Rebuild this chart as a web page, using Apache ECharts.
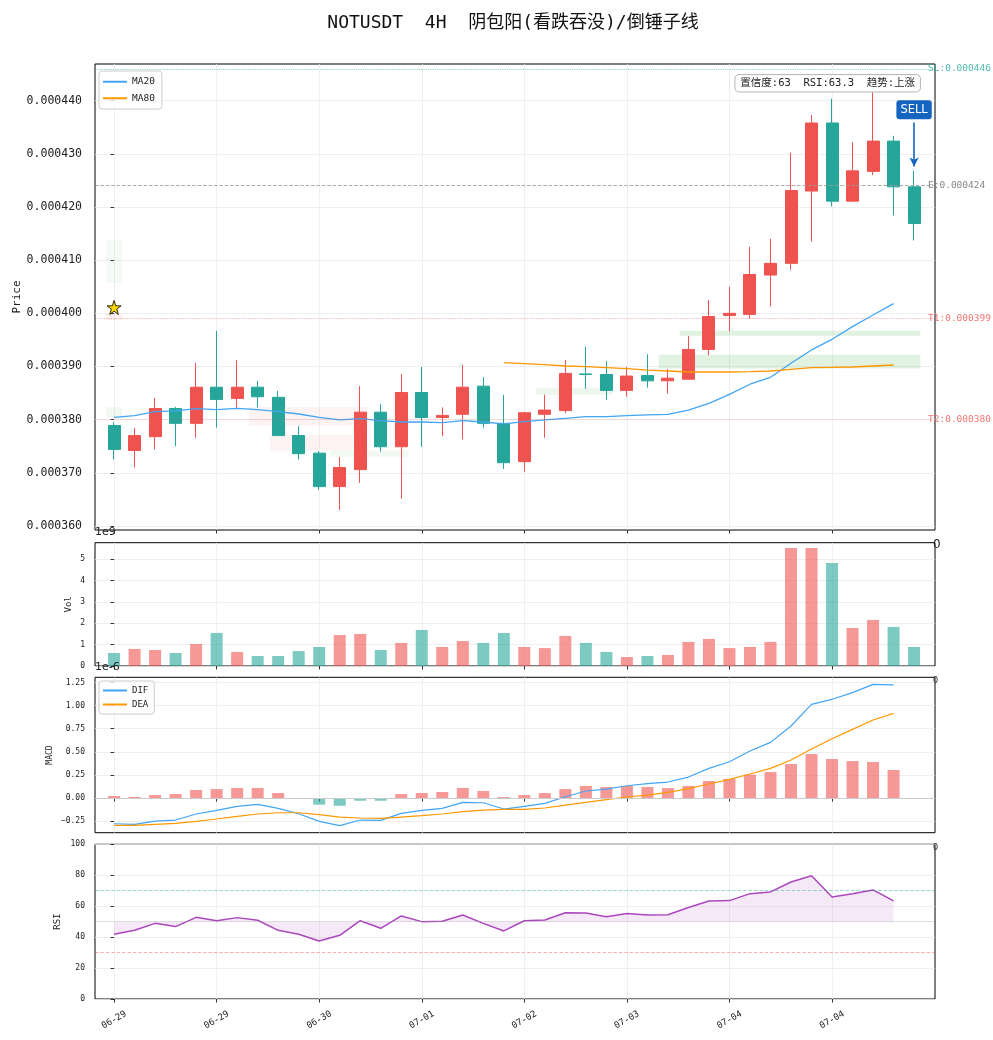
<!DOCTYPE html>
<html>
<head>
<meta charset="utf-8">
<script src="https://cdn.jsdelivr.net/npm/echarts@6/dist/echarts.min.js"></script>
<style>html,body{margin:0;padding:0;background:#fff}#c{width:993px;height:1040px}</style>
</head>
<body>
<div id="c"></div>
<script>
// ---------- data ----------
const tickIdx = [0, 5, 10, 15, 20, 25, 30, 35];
const tickLabels = ['06-29', '06-29', '06-30', '07-01', '07-02', '07-03', '07-04', '07-04'];

const opens  = [378.9e-6,374.2e-6,376.8e-6,382.1e-6,379.3e-6,386.1e-6,384.0e-6,386.1e-6,384.2e-6,377.0e-6,
                373.7e-6,367.4e-6,370.6e-6,381.4e-6,374.9e-6,385.1e-6,380.4e-6,381.0e-6,386.3e-6,379.3e-6,
                372.1e-6,381.0e-6,381.7e-6,388.6e-6,388.5e-6,385.5e-6,388.3e-6,387.3e-6,387.6e-6,393.2e-6,
                399.6e-6,399.8e-6,407.2e-6,409.4e-6,423.0e-6,435.8e-6,421.1e-6,426.7e-6,432.4e-6,423.8e-6];
const closes = [374.4e-6,377.0e-6,382.1e-6,379.3e-6,386.1e-6,383.8e-6,386.1e-6,384.3e-6,377.0e-6,373.6e-6,
                367.4e-6,371.0e-6,381.4e-6,374.9e-6,385.1e-6,380.4e-6,380.8e-6,386.1e-6,379.3e-6,371.9e-6,
                381.3e-6,381.8e-6,388.7e-6,388.5e-6,385.5e-6,388.2e-6,387.3e-6,387.8e-6,393.2e-6,399.4e-6,
                400.0e-6,407.3e-6,409.4e-6,423.1e-6,435.8e-6,421.1e-6,426.8e-6,432.4e-6,423.8e-6,416.9e-6];
const lows   = [372.5e-6,371.0e-6,374.4e-6,375.0e-6,376.6e-6,378.5e-6,382.1e-6,382.3e-6,377.0e-6,372.5e-6,
                366.8e-6,363.0e-6,368.1e-6,374.0e-6,365.1e-6,374.9e-6,376.9e-6,376.3e-6,378.5e-6,370.7e-6,
                370.2e-6,376.6e-6,381.2e-6,385.8e-6,383.7e-6,384.3e-6,386.0e-6,384.9e-6,387.6e-6,392.1e-6,
                396.6e-6,399.0e-6,401.3e-6,408.2e-6,413.5e-6,420.1e-6,421.1e-6,426.0e-6,418.4e-6,413.7e-6];
const highs  = [379.5e-6,378.4e-6,384.1e-6,382.4e-6,390.7e-6,396.7e-6,391.2e-6,387.3e-6,385.4e-6,378.8e-6,
                374.1e-6,373.0e-6,386.3e-6,382.9e-6,388.6e-6,389.9e-6,382.3e-6,390.3e-6,388.0e-6,384.7e-6,
                381.5e-6,384.7e-6,391.2e-6,393.7e-6,391.0e-6,389.9e-6,392.3e-6,389.5e-6,395.7e-6,402.5e-6,
                405.0e-6,412.5e-6,414.0e-6,430.2e-6,437.3e-6,440.4e-6,432.2e-6,441.6e-6,433.4e-6,426.8e-6];

const volumes = [0.61e9,0.80e9,0.75e9,0.61e9,1.03e9,1.55e9,0.66e9,0.47e9,0.47e9,0.70e9,
                 0.89e9,1.45e9,1.50e9,0.75e9,1.08e9,1.69e9,0.89e9,1.17e9,1.08e9,1.55e9,
                 0.89e9,0.84e9,1.41e9,1.08e9,0.66e9,0.42e9,0.47e9,0.52e9,1.13e9,1.27e9,
                 0.84e9,0.89e9,1.13e9,5.53e9,5.53e9,4.83e9,1.78e9,2.16e9,1.83e9,0.89e9];

const ma20 = [380.44e-6,380.75e-6,381.50e-6,381.63e-6,382.07e-6,381.88e-6,382.13e-6,381.88e-6,381.50e-6,381.06e-6,
              380.44e-6,379.94e-6,380.18e-6,379.81e-6,379.56e-6,379.56e-6,379.43e-6,379.81e-6,379.56e-6,379.19e-6,
              379.62e-6,379.94e-6,380.25e-6,380.56e-6,380.56e-6,380.75e-6,380.88e-6,381.00e-6,381.81e-6,383.07e-6,
              384.76e-6,386.66e-6,387.96e-6,390.60e-6,393.11e-6,395.11e-6,397.50e-6,399.69e-6,401.83e-6];
const ma80Start = 19;
const ma80 = [390.72e-6,390.53e-6,390.34e-6,390.09e-6,389.96e-6,389.77e-6,389.59e-6,389.33e-6,389.15e-6,388.96e-6,
              388.96e-6,388.96e-6,389.02e-6,389.15e-6,389.47e-6,389.77e-6,389.84e-6,389.90e-6,390.09e-6,390.28e-6];

const dif = [-0.278e-6,-0.285e-6,-0.249e-6,-0.238e-6,-0.173e-6,-0.133e-6,-0.090e-6,-0.069e-6,-0.112e-6,-0.170e-6,
             -0.253e-6,-0.299e-6,-0.238e-6,-0.242e-6,-0.166e-6,-0.133e-6,-0.112e-6,-0.047e-6,-0.051e-6,-0.119e-6,
             -0.090e-6,-0.058e-6,0.014e-6,0.076e-6,0.097e-6,0.133e-6,0.155e-6,0.173e-6,0.227e-6,0.321e-6,
             0.393e-6,0.509e-6,0.602e-6,0.779e-6,1.014e-6,1.068e-6,1.140e-6,1.230e-6,1.223e-6];
const dea = [-0.296e-6,-0.296e-6,-0.285e-6,-0.274e-6,-0.253e-6,-0.227e-6,-0.198e-6,-0.173e-6,-0.159e-6,-0.159e-6,
             -0.180e-6,-0.206e-6,-0.216e-6,-0.220e-6,-0.206e-6,-0.191e-6,-0.173e-6,-0.148e-6,-0.130e-6,-0.123e-6,
             -0.123e-6,-0.108e-6,-0.076e-6,-0.047e-6,-0.018e-6,0.011e-6,0.032e-6,0.061e-6,0.101e-6,0.152e-6,
             0.202e-6,0.260e-6,0.321e-6,0.411e-6,0.530e-6,0.642e-6,0.743e-6,0.844e-6,0.916e-6];
const macdHist = [0.022e-6,0.011e-6,0.032e-6,0.043e-6,0.087e-6,0.097e-6,0.108e-6,0.108e-6,0.054e-6,-0.011e-6,
                  -0.072e-6,-0.083e-6,-0.029e-6,-0.029e-6,0.043e-6,0.054e-6,0.065e-6,0.108e-6,0.076e-6,0.011e-6,
                  0.032e-6,0.054e-6,0.097e-6,0.130e-6,0.119e-6,0.130e-6,0.119e-6,0.108e-6,0.130e-6,0.184e-6,
                  0.206e-6,0.253e-6,0.281e-6,0.368e-6,0.476e-6,0.422e-6,0.400e-6,0.390e-6,0.303e-6];

const rsi = [41.8,44.4,48.9,46.8,52.8,50.6,52.6,50.9,44.4,41.8,
             37.5,41.2,50.6,45.7,53.7,50.0,50.2,54.3,48.9,44.0,
             50.6,51.1,55.8,55.6,53.2,55.2,54.3,54.5,59.1,63.4,
             63.6,68.1,69.2,75.6,79.7,65.9,68.1,70.5,63.4];

const priceLevels = [446e-6, 424e-6, 399e-6, 380e-6];
const priceLevelNames = ['SL', 'E', 'T1', 'T2'];

const zoneX1 = [-0.39, -0.39, -0.39, 6.58, 7.60, 10.55, 20.55, 26.55, 27.57];
const zoneX2 = [0.39, 0.39, 0.39, 12.36, 11.64, 14.37, 24.32, 39.31, 39.31];
const zoneLo = [405.7e-6, 398.7e-6, 380.4e-6, 378.9e-6, 374.2e-6, 373.0e-6, 384.7e-6, 389.6e-6, 395.8e-6];
const zoneHi = [413.8e-6, 400.0e-6, 382.4e-6, 382.4e-6, 377.1e-6, 374.2e-6, 386.0e-6, 392.2e-6, 396.7e-6];
const zoneKind = ['g', 'r', 'g', 'r', 'r', 'g', 'g', 'g', 'g'];

const starPoint = [0, 401.1e-6];
const signalIdx = 39;
const signalLabelPrice = 438.3e-6;
const arrowFrom = 435.9e-6, arrowTo = 427.6e-6;
const infoText = '置信度:63  RSI:63.3  趋势:上涨';
const titleText = 'NOTUSDT  4H  阴包阳(看跌吞没)/倒锤子线';

// ---------- styles ----------
const FONT = "'DejaVu Sans Mono','Noto Sans CJK SC',monospace";
const UP = '#ef5350', DOWN = '#26a69a';
const UP_A = 'rgba(239,83,80,0.6)', DOWN_A = 'rgba(38,166,154,0.6)';
const zoneAlpha = [0.06, 0.08, 0.07, 0.07, 0.07, 0.07, 0.10, 0.17, 0.17];
const X_MIN = -0.93, X_MAX = 40.02;
const GRID_C = '#ebebeb';

const grids = [
  {left: 95, top: 64, width: 840, height: 466},
  {left: 95, top: 542.7, width: 840, height: 123.3},
  {left: 95, top: 677.3, width: 840, height: 155.4},
  {left: 95, top: 844.3, width: 840, height: 154.7}
].map(g => Object.assign(g, {show: true, borderColor: '#000', borderWidth: 1, backgroundColor: 'transparent',
                             containLabel: false, outerBoundsMode: 'none'}));

const xAxes = grids.map((g, i) => ({
  type: 'value', gridIndex: i, min: X_MIN, max: X_MAX,
  axisLine: {show: false},
  axisTick: {show: true, length: 3.5, lineStyle: {color: '#000', width: 0.8}, customValues: tickIdx},
  axisLabel: {
    show: i === 3, customValues: tickIdx,
    formatter: v => tickLabels[tickIdx.indexOf(Math.round(v))] || '',
    rotate: 30, align: 'center', verticalAlign: 'middle', margin: 21,
    fontSize: 9, color: '#222', fontFamily: FONT
  },
  splitLine: {show: true, lineStyle: {color: GRID_C, width: 0.8}}
}));

const priceTicks = [360e-6, 370e-6, 380e-6, 390e-6, 400e-6, 410e-6, 420e-6, 430e-6, 440e-6];
const volTicks = [0, 1e9, 2e9, 3e9, 4e9, 5e9];
const macdTicks = [-0.25e-6, 0, 0.25e-6, 0.5e-6, 0.75e-6, 1.0e-6, 1.25e-6];
const rsiTicks = [0, 20, 40, 60, 80, 100];

function yAx(i, min, max, ticks, fmt, fs, name, nameGap, nameFs, margin) {
  return {
    type: 'value', gridIndex: i, min: min, max: max,
    axisLine: {show: false},
    axisTick: {show: true, length: 3.5, lineStyle: {color: '#000', width: 0.8}, customValues: ticks},
    axisLabel: {customValues: ticks, formatter: fmt, fontSize: fs, color: '#222', fontFamily: FONT, margin: margin},
    splitLine: {show: true, lineStyle: {color: GRID_C, width: 0.8}},
    name: name, nameLocation: 'middle', nameGap: nameGap, nameMoveOverlap: false,
    nameTextStyle: {fontSize: nameFs, color: '#222', fontFamily: FONT}
  };
}
const yAxes = [
  yAx(0, 359.24e-6, 446.9e-6, priceTicks, v => v.toFixed(6), 11.5, 'Price', 72, 11, 13),
  yAx(1, 0, 5.78e9, volTicks, v => String(Math.round(v / 1e9)), 8, 'Vol', 22, 9, 10),
  yAx(2, -0.375e-6, 1.306e-6, macdTicks, v => (v / 1e-6).toFixed(2).replace('-', '−'), 8, 'MACD', 41, 8, 10),
  yAx(3, 0, 100, rsiTicks, v => String(v), 8, 'RSI', 33, 9, 10)
];

const isUp = opens.map((o, i) => closes[i] > o);
const candleData = opens.map((o, i) => [i, o, closes[i], lows[i], highs[i]]);

const levelStyles = [
  {color: '#26a69a', type: 'dotted', opacity: 0.6, labelColor: '#26a69a'},
  {color: '#999', type: 'dashed', opacity: 0.9, labelColor: '#666'},
  {color: '#ef5350', type: 'dotted', opacity: 0.5, labelColor: '#ef5350'},
  {color: '#ef5350', type: 'dotted', opacity: 0.3, labelColor: '#ef5350'}
];
const levelLines = priceLevels.map((p, i) => ({
  yAxis: p,
  lineStyle: {color: levelStyles[i].color, type: levelStyles[i].type, opacity: levelStyles[i].opacity, width: 0.9},
  label: {show: true, position: 'end', distance: -7, formatter: priceLevelNames[i] + ':' + p.toFixed(6),
          color: levelStyles[i].labelColor, opacity: 0.8, fontSize: 9.5, fontFamily: FONT}
}));

const zones = zoneX1.map((x1, i) => [
  {coord: [x1, zoneHi[i]], itemStyle: {color: zoneKind[i] === 'g' ? `rgba(76,175,80,${zoneAlpha[i]})` : `rgba(239,83,80,${zoneAlpha[i]})`}},
  {coord: [zoneX2[i], zoneLo[i]]}
]);

const STAR = 'path://M50,2 L61.8,36.2 L97.6,36.2 L68.6,57.4 L79.4,91.6 L50,70.6 L20.6,91.6 L31.4,57.4 L2.4,36.2 L38.2,36.2 Z';

const option = {
  animation: false,
  backgroundColor: '#fff',
  textStyle: {fontFamily: FONT},
  title: {
    text: titleText, left: 508, top: 9, textAlign: 'center',
    textStyle: {fontSize: 18, fontWeight: 'normal', color: '#111', fontFamily: FONT}
  },
  legend: [
    {data: [{name: 'MA20', icon: 'rect'}, {name: 'MA80', icon: 'rect'}], left: 99, top: 71, orient: 'vertical',
     itemWidth: 24, itemHeight: 2, itemGap: 7, padding: [6, 7, 6, 4], borderColor: '#ccc', borderWidth: 1, borderRadius: 3,
     backgroundColor: 'rgba(255,255,255,0.8)', textStyle: {fontSize: 9.5, color: '#222', fontFamily: FONT}},
    {data: [{name: 'DIF', icon: 'rect'}, {name: 'DEA', icon: 'rect'}], left: 99, top: 681, orient: 'vertical',
     itemWidth: 24, itemHeight: 2, itemGap: 5, padding: [5, 6, 5, 4], borderColor: '#ccc', borderWidth: 1, borderRadius: 3,
     backgroundColor: 'rgba(255,255,255,0.8)', textStyle: {fontSize: 9, color: '#222', fontFamily: FONT}}
  ],
  grid: grids,
  xAxis: xAxes,
  yAxis: yAxes,
  series: [
    {
      type: 'candlestick', name: 'K', xAxisIndex: 0, yAxisIndex: 0, data: candleData, barWidth: 12.5, z: 3,
      itemStyle: {color: UP, color0: DOWN, borderColor: UP, borderColor0: DOWN, borderWidth: 1},
      markArea: {silent: true, data: zones}
    },
    {type: 'line', name: 'MA20', xAxisIndex: 0, yAxisIndex: 0, data: ma20.map((v, i) => [i, v]),
     symbol: 'none', color: '#42a5f5', lineStyle: {color: '#42a5f5', width: 1.3}, z: 4,
     markLine: {silent: true, symbol: 'none', precision: 10, data: levelLines}},
    {type: 'line', name: 'MA80', xAxisIndex: 0, yAxisIndex: 0, data: ma80.map((v, i) => [i + ma80Start, v]),
     symbol: 'none', color: '#ff9800', lineStyle: {color: '#ff9800', width: 1.3}, z: 4},
    {type: 'scatter', name: 'star', xAxisIndex: 0, yAxisIndex: 0, data: [starPoint], symbol: STAR, symbolSize: 14, z: 6,
     itemStyle: {color: '#ffd700', borderColor: '#000', borderWidth: 0.8, opacity: 1}},
    {type: 'scatter', name: 'signal', xAxisIndex: 0, yAxisIndex: 0, data: [[signalIdx, signalLabelPrice]], symbolSize: 0, z: 7,
     itemStyle: {opacity: 1},
     label: {show: true, position: 'inside', formatter: 'SELL', color: '#fff', backgroundColor: '#1565c0', opacity: 1,
             padding: [4, 4, 3, 4], borderRadius: 3, fontSize: 11.5, fontFamily: "'DejaVu Sans',sans-serif"},
     markLine: {silent: true, symbol: ['none', 'arrow'], symbolSize: [7, 9], precision: 10, label: {show: false},
                lineStyle: {color: '#1565c0', width: 1.6, type: 'solid', opacity: 1},
                data: [[{coord: [signalIdx, arrowFrom]}, {coord: [signalIdx, arrowTo]}]]}},
    {type: 'bar', name: 'Vol', xAxisIndex: 1, yAxisIndex: 1, barWidth: 12,
     data: volumes.map((v, i) => ({value: [i, v], itemStyle: {color: isUp[i] ? UP_A : DOWN_A}}))},
    {type: 'bar', name: 'Hist', xAxisIndex: 2, yAxisIndex: 2, barWidth: 12,
     data: macdHist.map((v, i) => ({value: [i, v], itemStyle: {color: v >= 0 ? UP_A : DOWN_A}})),
     markLine: {silent: true, symbol: 'none', label: {show: false}, lineStyle: {color: '#ccc', width: 1, type: 'solid'}, data: [{yAxis: 0}]}},
    {type: 'line', name: 'DIF', xAxisIndex: 2, yAxisIndex: 2, data: dif.map((v, i) => [i, v]),
     symbol: 'none', color: '#42a5f5', lineStyle: {color: '#42a5f5', width: 1.2}, z: 4},
    {type: 'line', name: 'DEA', xAxisIndex: 2, yAxisIndex: 2, data: dea.map((v, i) => [i, v]),
     symbol: 'none', color: '#ff9800', lineStyle: {color: '#ff9800', width: 1.2}, z: 4},
    {type: 'custom', name: 'rsiFill', xAxisIndex: 3, yAxisIndex: 3, data: rsi.map((v, i) => [i, v]), silent: true, z: 2,
     renderItem: function (params, api) {
       if (params.dataIndex !== 0) return null;
       const pts = rsi.map((v, i) => api.coord([i, v]));
       for (let i = rsi.length - 1; i >= 0; i--) pts.push(api.coord([i, 50]));
       return {type: 'polygon', shape: {points: pts}, style: {fill: 'rgba(171,71,188,0.12)'}};
     }},
    {type: 'line', name: 'RSI', xAxisIndex: 3, yAxisIndex: 3, data: rsi.map((v, i) => [i, v]),
     symbol: 'none', color: '#ab47bc', lineStyle: {color: '#ab47bc', width: 1.5}, z: 4,
     markLine: {silent: true, symbol: 'none', label: {show: false}, data: [
       {yAxis: 70, lineStyle: {color: '#26a69a', type: 'dashed', opacity: 0.5, width: 0.9}},
       {yAxis: 30, lineStyle: {color: '#ef5350', type: 'dashed', opacity: 0.5, width: 0.9}},
       {yAxis: 50, lineStyle: {color: '#999', type: 'solid', opacity: 0.3, width: 1}}
     ]}}
  ],
  graphic: [
    {type: 'text', right: 72, top: 74, z: 100,
     style: {text: infoText, font: "10.5px 'DejaVu Sans Mono','Noto Sans CJK SC',monospace", fill: '#222',
             backgroundColor: 'rgba(255,255,255,0.9)', borderColor: '#bbb', borderWidth: 1, borderRadius: 4, padding: [3, 5]}},
    {type: 'text', left: 95, top: 527, z: 100, style: {text: '1e9', font: "11px 'DejaVu Sans',sans-serif", fill: '#222'}},
    {type: 'text', left: 95, top: 662, z: 100, style: {text: '1e-6', font: "11px 'DejaVu Sans',sans-serif", fill: '#222'}},
    {type: 'text', left: 933, top: 539, z: 100, style: {text: '0', font: "12px 'DejaVu Sans',sans-serif", fill: '#222'}},
    {type: 'text', left: 933, top: 677, z: 100, style: {text: '0', font: "8px 'DejaVu Sans',sans-serif", fill: '#222'}},
    {type: 'text', left: 933, top: 844, z: 100, style: {text: '0', font: "8px 'DejaVu Sans',sans-serif", fill: '#222'}}
  ]
};

const chart = echarts.init(document.getElementById('c'), null, {renderer: 'canvas'});
chart.setOption(option);
</script>
</body>
</html>
